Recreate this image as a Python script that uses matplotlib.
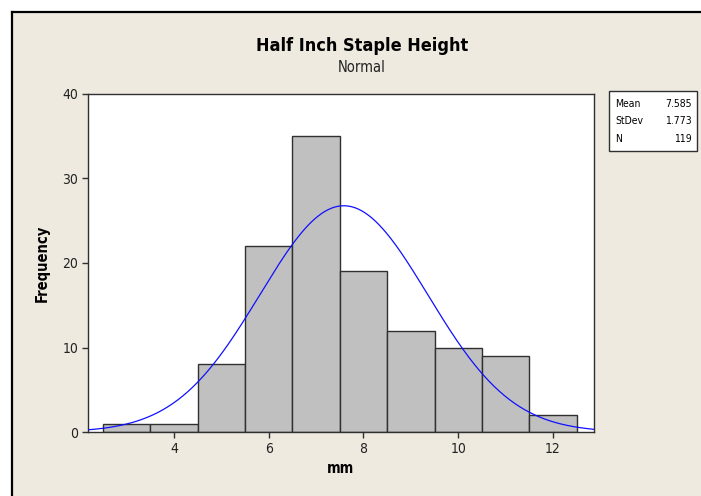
import numpy as np
import matplotlib.pyplot as plt
from matplotlib.patches import Rectangle

# histogram of staple heights (bin midpoints and counts)
midpoints = [3, 4, 5, 6, 7, 8, 9, 10, 11, 12]
counts = [1, 1, 8, 22, 35, 19, 12, 10, 9, 2]
mean = 7.585
stdev = 1.773
n = 119
xticks = [4, 6, 8, 10, 12]
yticks = [0, 10, 20, 30, 40]

bg = '#EEEAE0'
W, H = 701, 496
fig = plt.figure(figsize=(W / 100, H / 100), dpi=100)
fig.patch.set_facecolor(bg)

# white strips at top/left, black frame line
fig.patches.append(Rectangle((0, 1 - 11.5 / H), 1, 11.5 / H, transform=fig.transFigure,
                             facecolor='white', edgecolor='none', zorder=0))
fig.patches.append(Rectangle((0, 0), 12 / W, 1, transform=fig.transFigure,
                             facecolor='white', edgecolor='none', zorder=0))
fig.add_artist(plt.Line2D([12 / W, 1], [1 - 11.5 / H] * 2, color='black', lw=1.6,
                          transform=fig.transFigure))
fig.add_artist(plt.Line2D([12 / W] * 2, [0, 1 - 11.5 / H], color='black', lw=1.6,
                          transform=fig.transFigure))

ax = fig.add_axes([88 / W, 1 - 432 / H, (594 - 88) / W, (432 - 94) / H])
ax.set_zorder(5)
ax.set_facecolor('white')

ax.bar(midpoints, counts, width=1, color='#C0C0C0', edgecolor='#303030', linewidth=1.0, zorder=2)

# fitted normal curve, scaled to counts with bin width 1
xmin, xmax = 2.186, 12.865
xs = np.linspace(xmin, xmax, 300)
ys = n * 1.0 / (stdev * np.sqrt(2 * np.pi)) * np.exp(-0.5 * ((xs - mean) / stdev) ** 2)
ax.plot(xs, ys, color='#1010FF', lw=0.9, zorder=3)

ax.set_xlim(xmin, xmax)
ax.set_ylim(0, 40)
ax.set_xticks(xticks)
ax.set_yticks(yticks)
for s in ax.spines.values():
    s.set_color('#303030')
    s.set_linewidth(1.0)
ax.tick_params(direction='out', length=4, width=1, color='#303030', labelsize=10,
               labelcolor='#222222', pad=3)
for lab in ax.get_xticklabels() + ax.get_yticklabels():
    lab.set_fontstretch('condensed')

ax.set_xlabel('mm', fontsize=10.5, fontweight='bold', labelpad=4, fontstretch='condensed')
ax.set_ylabel('Frequency', fontsize=10.5, fontweight='bold', labelpad=9, fontstretch='condensed')

fig.text(362 / W, 1 - 46 / H, 'Half Inch Staple Height', ha='center', va='center',
         fontsize=13, fontweight='bold', fontstretch='condensed')
fig.text(362 / W, 1 - 68 / H, 'Normal', ha='center', va='center', fontsize=10.5,
         fontstretch='condensed', color='#222222')

# stats box
fig.patches.append(Rectangle((609 / W, 1 - 151 / H), 88 / W, 60 / H, transform=fig.transFigure,
                             facecolor='white', edgecolor='#303030', lw=1.0, zorder=1))
labels = ['Mean', 'StDev', 'N']
values = ['%.3f' % mean, '%.3f' % stdev, str(n)]
for i, (lab, val) in enumerate(zip(labels, values)):
    y = 1 - (104 + i * 17.5) / H
    fig.text(615 / W, y, lab, ha='left', va='center', fontsize=7.5, fontstretch='condensed')
    fig.text(692 / W, y, val, ha='right', va='center', fontsize=7.5, fontstretch='condensed')

fig.savefig('out.png', dpi=100, facecolor=fig.get_facecolor())
